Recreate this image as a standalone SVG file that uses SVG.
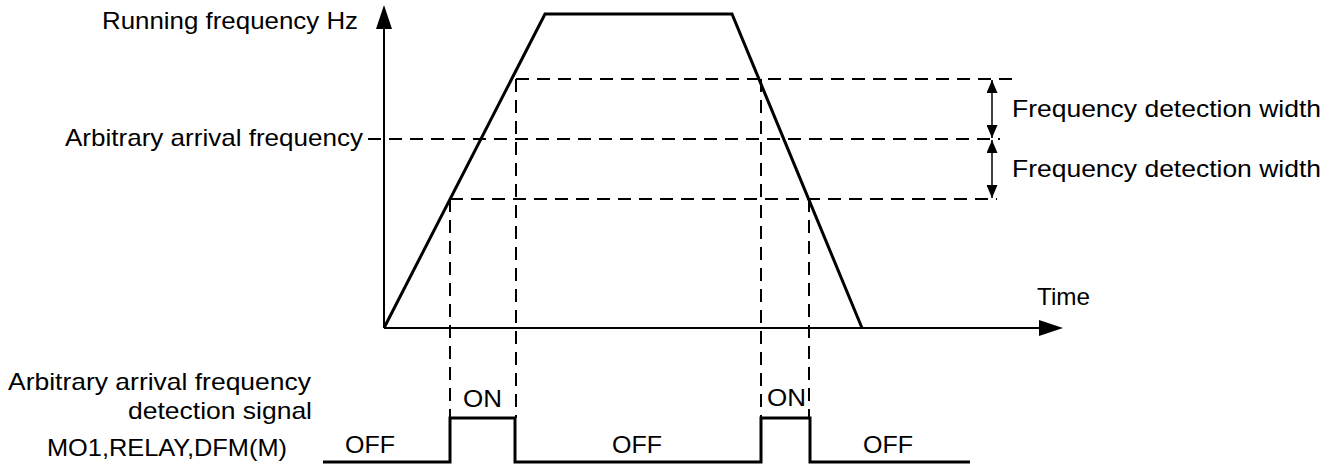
<svg xmlns="http://www.w3.org/2000/svg" width="1336" height="472" viewBox="0 0 1336 472">
<style>
text{font-family:"Liberation Sans",Arial,sans-serif;font-size:24px;fill:#000}
.axis{stroke:#000;stroke-width:2;fill:none}
.curve{stroke:#000;stroke-width:3;fill:none;stroke-linejoin:miter}
.dash{stroke:#000;stroke-width:2;fill:none;stroke-dasharray:13 8}
.dim{stroke:#000;stroke-width:1.5;fill:none}
</style>
<defs>
<marker id="ah" viewBox="0 0 13 11" refX="13" refY="5.5" markerWidth="13" markerHeight="11" markerUnits="userSpaceOnUse" orient="auto-start-reverse">
<path d="M0,0 L13,5.5 L0,11 Z" fill="#000"/>
</marker>
</defs>
<rect width="1336" height="472" fill="#fff"/>
<g id="axes">
<line class="axis" x1="384" y1="328" x2="384" y2="28"/>
<path d="M384,5 L392,29 L376,29 Z" fill="#000"/>
<line class="axis" x1="384" y1="328" x2="1040" y2="328"/>
<path d="M1063,328 L1039,320 L1039,336 Z" fill="#000"/>
</g>
<g id="frequency-curve">
<path class="curve" d="M384,328 L545,14 L732,14 L862,328"/>
</g>
<g id="dashed-guides">
<line class="dash" x1="516" y1="79" x2="1012" y2="79"/>
<line class="dash" x1="368" y1="139" x2="1000" y2="139"/>
<line class="dash" x1="450" y1="199" x2="997" y2="199"/>
<line class="dash" x1="450" y1="199" x2="450" y2="418"/>
<line class="dash" x1="516" y1="79" x2="516" y2="418"/>
<line class="dash" x1="761" y1="79" x2="761" y2="418"/>
<line class="dash" x1="809" y1="199" x2="809" y2="418"/>
</g>
<g id="width-arrows">
<line class="dim" x1="992" y1="80" x2="992" y2="138" marker-start="url(#ah)" marker-end="url(#ah)"/>
<line class="dim" x1="992" y1="140" x2="992" y2="198" marker-start="url(#ah)" marker-end="url(#ah)"/>
</g>
<g id="signal">
<path class="curve" d="M323,462 L450,462 L450,418 L515,418 L515,462 L761,462 L761,418 L810,418 L810,462 L970,462"/>
</g>
<g id="labels">
<text x="102" y="29" textLength="256" lengthAdjust="spacingAndGlyphs">Running frequency Hz</text>
<text x="65" y="146" textLength="298" lengthAdjust="spacingAndGlyphs">Arbitrary arrival frequency</text>
<text x="1012" y="117" textLength="309" lengthAdjust="spacingAndGlyphs">Frequency detection width</text>
<text x="1012" y="177" textLength="309" lengthAdjust="spacingAndGlyphs">Frequency detection width</text>
<text x="1037" y="305" textLength="53" lengthAdjust="spacingAndGlyphs">Time</text>
<text x="8" y="390" textLength="303" lengthAdjust="spacingAndGlyphs">Arbitrary arrival frequency</text>
<text x="128" y="419" textLength="184" lengthAdjust="spacingAndGlyphs">detection signal</text>
<text x="47" y="456" textLength="240" lengthAdjust="spacingAndGlyphs">MO1,RELAY,DFM(M)</text>
<text x="463" y="407" textLength="39" lengthAdjust="spacingAndGlyphs">ON</text>
<text x="767" y="406" textLength="39" lengthAdjust="spacingAndGlyphs">ON</text>
<text x="345" y="453" textLength="50" lengthAdjust="spacingAndGlyphs">OFF</text>
<text x="612" y="453" textLength="50" lengthAdjust="spacingAndGlyphs">OFF</text>
<text x="863" y="453" textLength="50" lengthAdjust="spacingAndGlyphs">OFF</text>
</g>
</svg>
